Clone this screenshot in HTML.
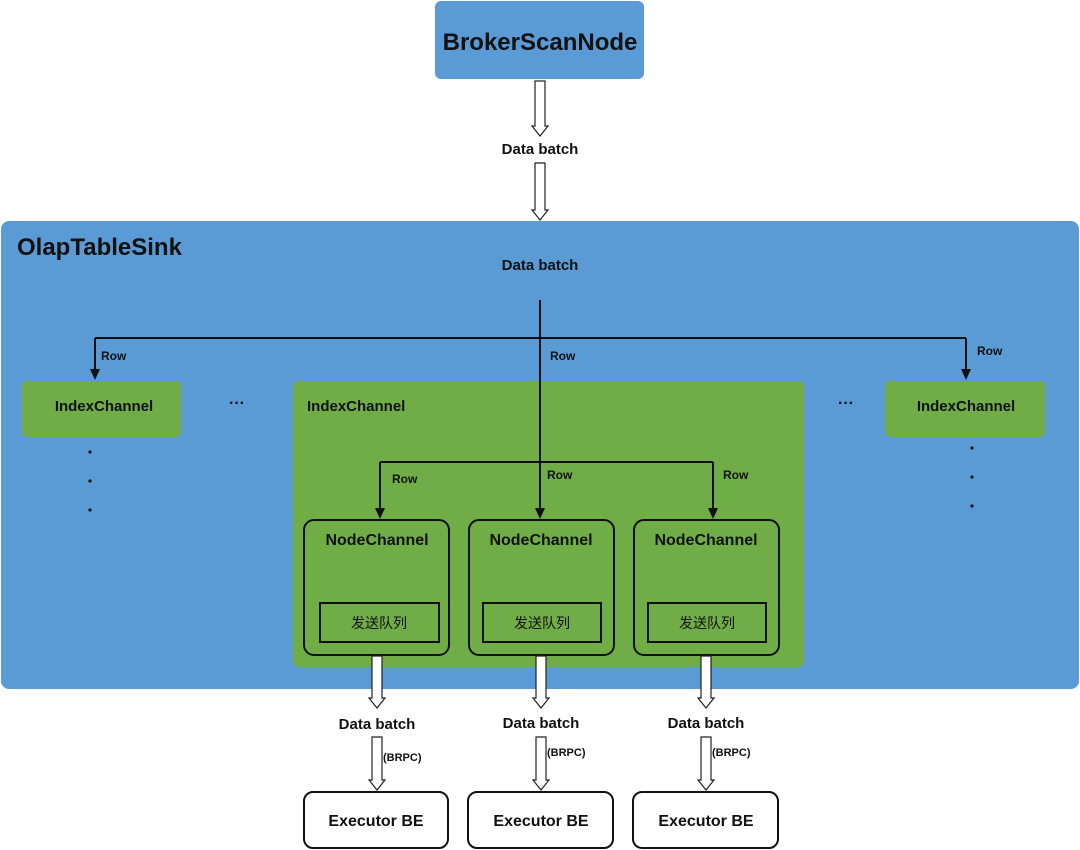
<!DOCTYPE html>
<html><head><meta charset="utf-8"><style>
html,body{margin:0;padding:0;background:#fff;width:1080px;height:850px;overflow:hidden}
text{font-family:"Liberation Sans","Noto Sans CJK SC",sans-serif;font-weight:bold;fill:#111}
</style></head><body>
<svg width="1080" height="850" viewBox="0 0 1080 850" xmlns="http://www.w3.org/2000/svg">
<!-- BrokerScanNode -->
<rect x="435" y="1" width="209" height="78" rx="6" fill="#5b9bd5"/>
<text x="540" y="50" font-size="24" text-anchor="middle">BrokerScanNode</text>
<!-- hollow arrows top -->
<g fill="#fff" stroke="#222" stroke-width="1.2">
<path d="M535,81 H545 V126 H548 L540,136 L532,126 H535 Z"/>
<path d="M535,163 H545 V210 H548 L540,220 L532,210 H535 Z"/>
</g>
<text x="540" y="154" font-size="15" text-anchor="middle">Data batch</text>
<!-- OlapTableSink -->
<rect x="1" y="221" width="1078" height="468" rx="8" fill="#5b9bd5"/>
<text x="17" y="255" font-size="24">OlapTableSink</text>
<text x="540" y="270" font-size="15" text-anchor="middle">Data batch</text>
<!-- index channels -->
<rect x="22" y="381" width="159" height="56" rx="5" fill="#70ad47"/>
<text x="104" y="411" font-size="15" text-anchor="middle">IndexChannel</text>
<rect x="293" y="381" width="511" height="286" rx="6" fill="#70ad47"/>
<text x="307" y="411" font-size="15">IndexChannel</text>
<rect x="885" y="381" width="160" height="56" rx="5" fill="#70ad47"/>
<text x="966" y="411" font-size="15" text-anchor="middle">IndexChannel</text>
<text x="237" y="408" font-size="16" text-anchor="middle">···</text>
<text x="846" y="408" font-size="16" text-anchor="middle">···</text>
<g fill="#111"><circle cx="90" cy="452" r="1.6"/><circle cx="90" cy="481" r="1.6"/><circle cx="90" cy="510" r="1.6"/>
<circle cx="972" cy="448" r="1.6"/><circle cx="972" cy="477" r="1.6"/><circle cx="972" cy="506" r="1.6"/></g>
<!-- lines -->
<g stroke="#111" stroke-width="2" fill="none">
<path d="M540,300 V510"/>
<path d="M95,338 H966"/>
<path d="M95,338 V370"/>
<path d="M966,338 V370"/>
<path d="M380,462 H713"/>
<path d="M380,462 V510"/>
<path d="M713,462 V510"/>
</g>
<g fill="#111">
<path d="M90,369 L100,369 L95,380 Z"/>
<path d="M961,369 L971,369 L966,380 Z"/>
<path d="M375,508 L385,508 L380,519 Z"/>
<path d="M535,508 L545,508 L540,519 Z"/>
<path d="M708,508 L718,508 L713,519 Z"/>
</g>
<g font-size="12">
<text x="101" y="360">Row</text><text x="550" y="360">Row</text><text x="977" y="355">Row</text>
<text x="392" y="483">Row</text><text x="547" y="479">Row</text><text x="723" y="479">Row</text>
</g>
<!-- node channels -->
<g stroke="#111" stroke-width="2" fill="none">
<rect x="304" y="520" width="145" height="135" rx="10"/>
<rect x="469" y="520" width="145" height="135" rx="10"/>
<rect x="634" y="520" width="145" height="135" rx="10"/>
<rect x="320" y="603" width="119" height="39"/>
<rect x="483" y="603" width="118" height="39"/>
<rect x="648" y="603" width="118" height="39"/>
</g>
<g font-size="16" text-anchor="middle">
<text x="377" y="545">NodeChannel</text><text x="541" y="545">NodeChannel</text><text x="706" y="545">NodeChannel</text>
</g>
<g font-size="14" text-anchor="middle">
<text x="379" y="628" style="font-weight:normal">发送队列</text><text x="542" y="628" style="font-weight:normal">发送队列</text><text x="707" y="628" style="font-weight:normal">发送队列</text>
</g>
<!-- bottom arrows -->
<g fill="#fff" stroke="#222" stroke-width="1.2">
<path d="M372,656 H382 V698 H385 L377,708 L369,698 H372 Z"/>
<path d="M372,737 H382 V780 H385 L377,790 L369,780 H372 Z"/>
<path d="M536,656 H546 V698 H549 L541,708 L533,698 H536 Z"/>
<path d="M536,737 H546 V780 H549 L541,790 L533,780 H536 Z"/>
<path d="M701,656 H711 V698 H714 L706,708 L698,698 H701 Z"/>
<path d="M701,737 H711 V780 H714 L706,790 L698,780 H701 Z"/>
</g>
<g font-size="15" text-anchor="middle">
<text x="377" y="729">Data batch</text><text x="541" y="728">Data batch</text><text x="706" y="728">Data batch</text>
</g>
<g font-size="11">
<text x="383" y="761">(BRPC)</text><text x="547" y="756">(BRPC)</text><text x="712" y="756">(BRPC)</text>
</g>
<g stroke="#111" stroke-width="2" fill="#fff">
<rect x="304" y="792" width="144" height="56" rx="9"/>
<rect x="468" y="792" width="145" height="56" rx="9"/>
<rect x="633" y="792" width="145" height="56" rx="9"/>
</g>
<g font-size="16" text-anchor="middle">
<text x="376" y="826">Executor BE</text><text x="541" y="826">Executor BE</text><text x="706" y="826">Executor BE</text>
</g>
</svg>
</body></html>
